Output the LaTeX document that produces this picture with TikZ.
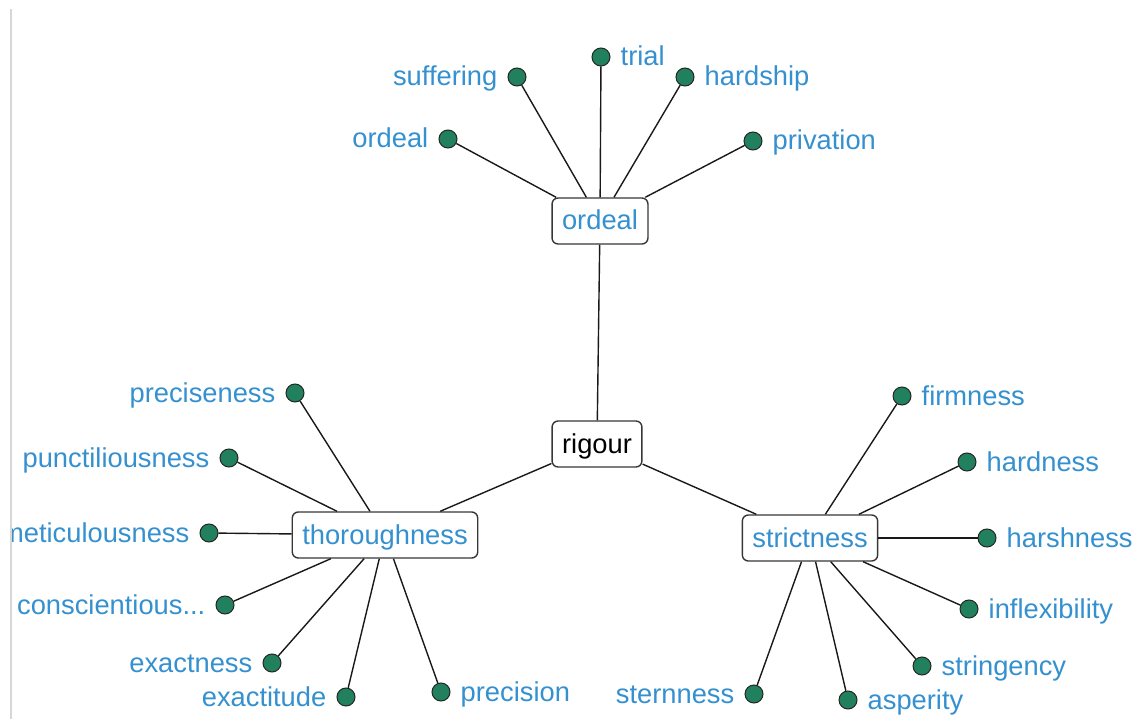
\documentclass[tikz,border=0pt]{standalone}
\usepackage{fontspec}
\setmainfont{Liberation Sans}
\definecolor{wordblue}{RGB}{52,144,207}
\definecolor{leafgreen}{RGB}{33,128,94}
\definecolor{hubedge}{RGB}{55,55,55}
\definecolor{railgray}{RGB}{215,215,215}
\newcommand{\wordfont}{\fontsize{27.3}{31}\selectfont}
\begin{document}
\begin{tikzpicture}[x=1pt,y=-1pt,
  hub/.style={draw=hubedge, line width=1.4pt, rounded corners=6pt, fill=white,
    minimum height=46pt, inner xsep=10pt, inner ysep=0pt, text=wordblue, font=\wordfont,
    text height=23pt, text depth=5pt},
  leaf/.style={circle, draw=black!85, line width=1pt, fill=leafgreen,
    minimum size=18pt, inner sep=0pt},
  lbl/.style={text=wordblue, font=\wordfont, inner sep=0pt,
    text height=23pt, text depth=5pt},
  link/.style={draw=black!90, line width=1.4pt},
  every label/.style={lbl}, label distance=10pt]
\useasboundingbox (0,0) rectangle (1138,719);
\begin{scope}
\clip (11.5,0) rectangle (1138,719);
% hubs
\node[hub, text=black] (rigour) at (597,444) {rigour};
\node[hub] (ordeal) at (600,221) {ordeal};
\node[hub] (thorough) at (385,535) {thoroughness};
\node[hub] (strict) at (810,538) {strictness};
% ordeal group
\node[leaf, label=left:ordeal] (o1) at (448,139) {};
\node[leaf, label=left:suffering] (o2) at (517,77) {};
\node[leaf, label=right:trial] (o3) at (601,57) {};
\node[leaf, label=right:hardship] (o4) at (685,77) {};
\node[leaf, label=right:privation] (o5) at (753,141) {};
% thoroughness group
\node[leaf, label=left:preciseness] (t1) at (295,393) {};
\node[leaf, label=left:punctiliousness] (t2) at (229,458) {};
\node[leaf, label=left:meticulousness] (t3) at (209,533) {};
\node[leaf, label=left:conscientious...] (t4) at (225,605) {};
\node[leaf, label=left:exactness] (t5) at (272,663) {};
\node[leaf, label=left:exactitude] (t6) at (346,697) {};
\node[leaf, label=right:precision] (t7) at (441,692) {};
% strictness group
\node[leaf, label=right:firmness] (s1) at (902,396) {};
\node[leaf, label=right:hardness] (s2) at (967,462) {};
\node[leaf, label=right:harshness] (s3) at (987,538) {};
\node[leaf, label=right:inflexibility] (s4) at (969,609) {};
\node[leaf, label=right:stringency] (s5) at (922,666) {};
\node[leaf, label=right:asperity] (s6) at (848,700) {};
\node[leaf, label=left:sternness] (s7) at (754,694) {};
% connectors
\draw[link] (rigour) -- (ordeal);
\draw[link] (rigour) -- (thorough);
\draw[link] (rigour) -- (strict);
\foreach \n in {o1,o2,o3,o4,o5} \draw[link] (ordeal) -- (\n);
\foreach \n in {t1,t2,t3,t4,t5,t6,t7} \draw[link] (thorough) -- (\n);
\foreach \n in {s1,s2,s3,s4,s5,s6,s7} \draw[link] (strict) -- (\n);
\end{scope}
% left rail
\draw[railgray, line width=2pt] (10.5,9) -- (10.5,719);
\end{tikzpicture}
\end{document}
